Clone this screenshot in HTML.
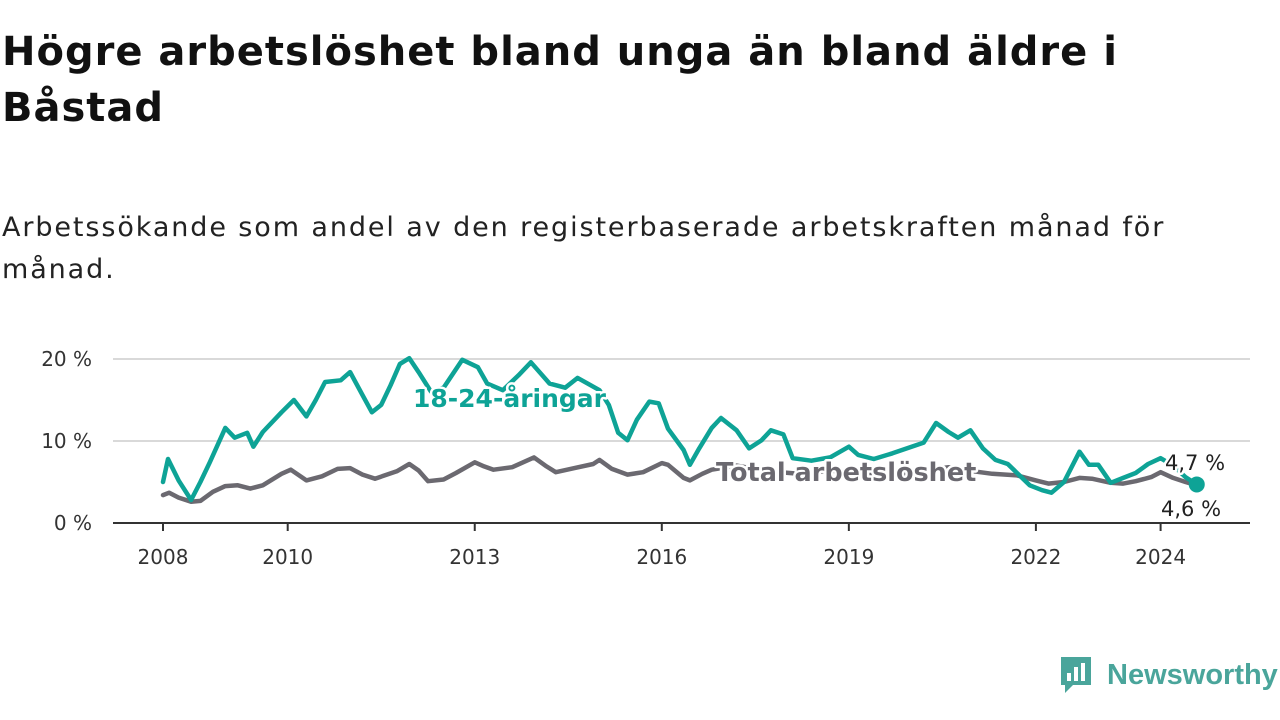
<!DOCTYPE html>
<html><head><meta charset="utf-8"><style>
body{margin:0;width:1280px;height:720px;background:#fff;font-family:"DejaVu Sans","Liberation Sans",sans-serif;overflow:hidden;position:relative}
h1{position:absolute;left:2px;top:24px;margin:0;font-size:40px;line-height:56px;font-weight:bold;color:#111;width:1270px;letter-spacing:1px;white-space:nowrap}
.sub{position:absolute;left:2px;top:207px;margin:0;font-size:27px;line-height:42px;color:#222;width:1270px;letter-spacing:1.9px;white-space:nowrap}
svg{position:absolute;left:0;top:0}
</style></head><body>
<h1>Högre arbetslöshet bland unga än bland äldre i<br>Båstad</h1>
<p class="sub">Arbetssökande som andel av den registerbaserade arbetskraften månad för<br>månad.</p>
<svg id="c" width="1280" height="720"></svg>
<script>
const yTicks=[0,10,20];
const yTickLabels=["0 %","10 %","20 %"];
const xTicks=[2008,2010,2013,2016,2019,2022,2024];
const youthT=[2008,2008.08,2008.25,2008.45,2008.6,2008.75,2009,2009.15,2009.35,2009.45,2009.6,2009.9,2010.1,2010.3,2010.45,2010.6,2010.85,2011,2011.2,2011.35,2011.5,2011.65,2011.8,2011.95,2012.1,2012.3,2012.5,2012.8,2013.05,2013.2,2013.45,2013.7,2013.9,2014.2,2014.45,2014.65,2015,2015.15,2015.3,2015.45,2015.6,2015.8,2015.95,2016.1,2016.35,2016.45,2016.6,2016.8,2016.95,2017.2,2017.4,2017.6,2017.75,2017.95,2018.1,2018.4,2018.7,2019,2019.15,2019.4,2019.7,2020.2,2020.4,2020.6,2020.75,2020.95,2021.15,2021.35,2021.55,2021.9,2022.1,2022.25,2022.45,2022.7,2022.85,2023,2023.2,2023.4,2023.6,2023.8,2024,2024.2,2024.4,2024.58];
const youthV=[5.0,7.8,5.2,2.8,5.0,7.4,11.6,10.4,11.0,9.3,11.1,13.5,15.0,13.0,15.0,17.2,17.4,18.4,15.6,13.5,14.4,16.8,19.4,20.1,18.4,16.0,16.5,19.9,19.0,17.0,16.2,18.0,19.6,17.0,16.5,17.7,16.2,14.4,11.0,10.1,12.6,14.8,14.6,11.5,8.9,7.1,9.1,11.6,12.8,11.3,9.1,10.1,11.3,10.8,7.9,7.6,8.0,9.3,8.3,7.8,8.5,9.8,12.2,11.1,10.4,11.3,9.1,7.7,7.2,4.6,4.0,3.7,5.0,8.7,7.1,7.1,4.9,5.5,6.1,7.2,7.9,7.0,5.6,4.7];
const totalT=[2008,2008.1,2008.25,2008.45,2008.6,2008.8,2009,2009.2,2009.4,2009.6,2009.9,2010.05,2010.3,2010.55,2010.8,2011,2011.2,2011.4,2011.75,2011.95,2012.1,2012.25,2012.5,2012.7,2013,2013.15,2013.3,2013.6,2013.95,2014.15,2014.3,2014.6,2014.9,2015,2015.2,2015.45,2015.7,2016,2016.1,2016.35,2016.45,2016.65,2016.8,2017.2,2017.7,2018.2,2018.7,2019.2,2019.7,2020.2,2020.6,2021,2021.3,2021.7,2022,2022.2,2022.45,2022.7,2022.9,2023.2,2023.4,2023.6,2023.85,2024,2024.2,2024.4,2024.58];
const totalV=[3.4,3.7,3.1,2.6,2.7,3.8,4.5,4.6,4.2,4.6,6.0,6.5,5.2,5.7,6.6,6.7,5.9,5.4,6.3,7.2,6.4,5.1,5.3,6.1,7.4,6.9,6.5,6.8,8.0,6.9,6.2,6.7,7.2,7.7,6.6,5.9,6.2,7.3,7.1,5.5,5.2,6.0,6.5,7.0,6.3,6.0,6.4,6.0,5.8,6.4,6.8,6.3,6.0,5.8,5.2,4.8,5.0,5.5,5.4,4.9,4.8,5.1,5.6,6.2,5.5,5.0,4.6];
const s=document.getElementById('c'),NS="http://www.w3.org/2000/svg";
const X=t=>163+(t-2008)*62.35, Y=v=>523-v*8.2;
function mk(tag,at,txt){const e=document.createElementNS(NS,tag);for(const k in at)e.setAttribute(k,at[k]);if(txt!=null)e.textContent=txt;s.appendChild(e);return e;}
yTicks.forEach((v,i)=>{
 if(v>0){const g=mk('line',{x1:113,x2:1250,y1:Y(v),y2:Y(v),stroke:'#d9d9d9','stroke-width':2});
 
 }
 const t=mk('text',{x:92,y:Y(v)+7,'text-anchor':'end','font-size':20,fill:'#333'},yTickLabels[i]);
 
 
});
const ax=mk('line',{x1:113,x2:1250,y1:523,y2:523,stroke:'#333','stroke-width':2});


xTicks.forEach(v=>{
 const l=mk('line',{x1:X(v),x2:X(v),y1:523,y2:531,stroke:'#333','stroke-width':2});
 
 
 const t=mk('text',{x:X(v),y:564,'text-anchor':'middle','font-size':20,fill:'#333'},String(v));
 
 
});
function line(T,V,col,name){const p=mk('path',{d:T.map((t,i)=>(i?'L':'M')+X(t).toFixed(1)+','+Y(V[i]).toFixed(1)).join(''),fill:'none',stroke:col,'stroke-width':4.5,'stroke-linejoin':'round','stroke-linecap':'round'});
 
 }
line(totalT,totalV,'#6b6970','total-line');
line(youthT,youthV,'#0ea396','youth-line');
const d=mk('circle',{cx:X(youthT[youthT.length-1]),cy:Y(youthV[youthV.length-1]),r:8,fill:'#0ea396'});


function lab(x,y,txt,col,name,sz,w){const t=mk('text',{x:x,y:y,'font-size':sz,'font-weight':w,fill:col,stroke:'#fff','stroke-width':5,'paint-order':'stroke','stroke-linejoin':'round'},txt);
 
 }
lab(413,407,'18-24-åringar','#0ea396','youth-series-label',25,'bold');
lab(716,481,'Total arbetslöshet','#6b6970','total-series-label',25.5,'bold');
lab(1165,470,'4,7 %','#222','youth-end-value',21,'normal');
lab(1161,516,'4,6 %','#222','total-end-value',21,'normal');
</script>
<div style="position:absolute;left:1059px;top:655px;height:40px;display:flex;align-items:center;font-family:'Liberation Sans',sans-serif">
<svg width="34" height="40" viewBox="0 0 34 40" style="position:static"><path d="M2 2h30v28H14l-8 8v-8H2z" fill="#4aa59b"/><rect x="8" y="18" width="4" height="8" fill="#fff"/><rect x="15" y="12" width="4" height="14" fill="#fff"/><rect x="22" y="8" width="4" height="18" fill="#fff"/></svg>
<span style="font-size:29px;color:#4aa59b;margin-left:14px;font-weight:bold">Newsworthy</span></div>
</body></html>
